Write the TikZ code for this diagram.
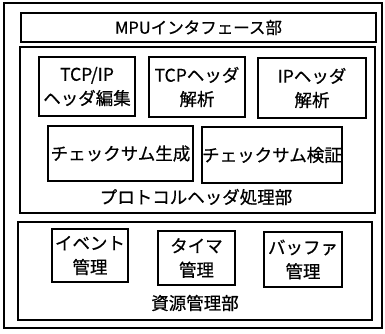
\documentclass[tikz,border=0pt]{standalone}
\usepackage{fontspec}
\setmainfont{Noto Sans CJK JP}[FakeBold=0.6]
\begin{document}
\begin{tikzpicture}[x=1pt,y=-1pt,
  frame/.style={draw=black,line width=1.8pt,rectangle,inner sep=0pt},
  lbl/.style={font=\fontsize{17.5}{24}\selectfont,align=center,inner sep=0pt},
  box/.style={frame,lbl}]
\useasboundingbox (0,0) rectangle (385,333);
\node[frame,minimum width=378pt,minimum height=325pt] (outer) at (193,165.5) {};
\node[box,minimum width=355pt,minimum height=29pt] (mpu) at (198.5,27.5) {\fontsize{16.5}{24}\selectfont MPUインタフェース部};
\node[frame,minimum width=355pt,minimum height=166pt] (proto) at (197.5,130) {};
\node[box,minimum width=96pt,minimum height=59pt] (tcpip) at (87,86.5) {TCP/IP\\ヘッダ編集};
\node[box,minimum width=96pt,minimum height=60pt] (tcph) at (197,87) {TCPヘッダ\\解析};
\node[box,minimum width=108pt,minimum height=60pt] (iph) at (312,88) {IPヘッダ\\解析};
\node[box,minimum width=145pt,minimum height=55pt] (csgen) at (120.5,153.5) {チェックサム生成};
\node[box,minimum width=140pt,minimum height=56pt] (csver) at (272,155) {チェックサム検証};
\node[lbl] (protolbl) at (196,197) {プロトコルヘッダ処理部};
\node[frame,minimum width=354pt,minimum height=98pt] (res) at (195,271) {};
\node[box,minimum width=76pt,minimum height=53pt] (event) at (90,255.5) {イベント\\管理};
\node[box,minimum width=77pt,minimum height=54pt] (timer) at (196.5,258) {タイマ\\管理};
\node[box,minimum width=78pt,minimum height=55pt] (buffer) at (303,259.5) {バッファ\\管理};
\node[lbl] (reslbl) at (195,303) {資源管理部};
\end{tikzpicture}
\end{document}
